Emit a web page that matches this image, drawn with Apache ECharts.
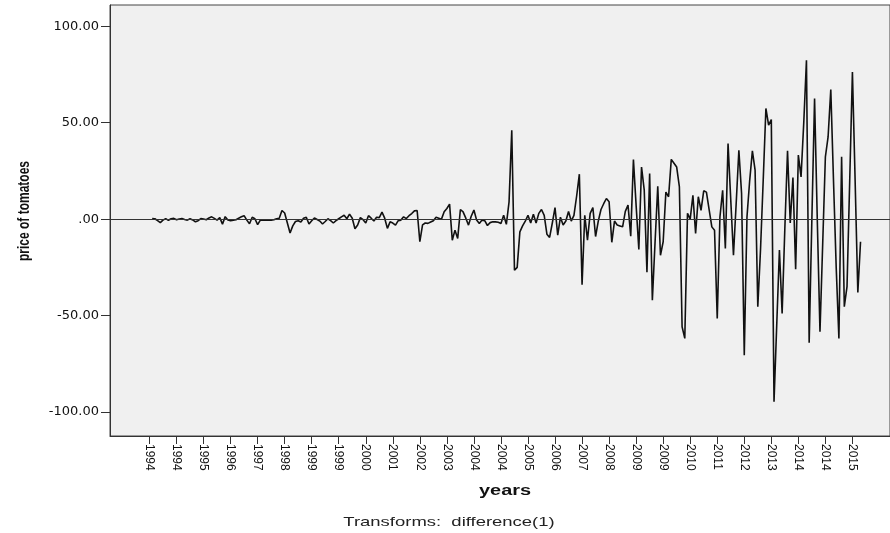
<!DOCTYPE html>
<html>
<head>
<meta charset="utf-8">
<script src="https://cdn.jsdelivr.net/npm/echarts@6/dist/echarts.min.js"></script>
<style>
html,body{margin:0;padding:0;background:#fff;}
#chart{width:890px;height:533px;}
</style>
</head>
<body>
<div id="chart"></div>
<script>
// Monthly differenced price of tomatoes, Jan 1994 .. Dec 2015 (first value missing: difference(1))
const startYear = 1994;
const priceDiff = [
  null, 0.3, 0.2, -0.8, -1.8, -0.5, 0.3, -0.6, 0.2, 0.4, -0.3, 0.1,          // 1994
  0.3, -0.2, -0.5, 0.2, -0.4, -1.4, -0.8, 0.3, 0.1, -0.3, 0.6, 1.2,          // 1995
  0.4, -0.5, 0.8, -2.6, 1.3, -0.4, -0.8, -0.6, -0.3, 0.5, 1.2, 1.8,          // 1996
  -0.5, -2.4, 1.0, 0.2, -2.8, -0.5, -0.6, -0.4, -0.5, -0.6, -0.3, 0.2,       // 1997
  0.5, 4.5, 3.2, -2.0, -7.2, -3.5, -1.2, -0.8, -1.5, 0.5, 1.0, -2.5,         // 1998
  -0.8, 0.6, -0.2, -1.0, -2.5, -1.2, 0.2, -0.8, -2.0, -0.8, 0.2, 1.2,        // 1999
  2.0, 0.2, 2.6, 0.5, -5.0, -3.0, 0.8, -0.3, -2.0, 1.8, 0.5, -1.0,           // 2000
  1.0, 0.8, 3.6, 0.5, -4.8, -1.4, -2.0, -3.1, -0.8, -0.5, 1.2, 0.3,          // 2001
  1.8, 2.9, 4.3, 4.5, -11.7, -3.0, -2.0, -2.2, -1.5, -0.8, 1.0, 0.5,         // 2002
  0.0, 3.8, 5.5, 7.8, -10.9, -5.7, -10.0, 5.0, 3.8, 0.5, -3.1, 1.5,          // 2003
  4.7, -0.5, -2.2, -0.5, -0.8, -3.3, -1.8, -1.4, -1.4, -1.6, -2.2, 2.0,      // 2004
  -2.7, 9.0, 46.1, -26.5, -25.0, -6.6, -3.5, -1.0, 2.0, -2.0, 2.5, -2.0,     // 2005
  3.0, 5.0, 2.0, -7.8, -9.5, -2.0, 6.0, -8.3, 1.0, -3.0, -1.0, 4.0,          // 2006
  -1.0, 2.0, 12.0, 23.3, -34.0, 2.0, -10.9, 3.0, 6.0, -9.0, -1.0, 5.0,       // 2007
  8.0, 10.7, 9.0, -12.0, -1.0, -3.0, -3.5, -4.0, 4.0, 7.3, -8.8, 30.9,       // 2008
  7.0, -15.7, 27.0, 15.0, -27.5, 23.7, -42.0, -12.0, 17.0, -18.7, -11.7, 14.0, // 2009
  11.6, 31.0, 29.0, 27.0, 16.7, -55.8, -61.8, 3.0, 0.0, 12.4, -7.4, 11.6,    // 2010
  4.6, 14.7, 14.0, 5.0, -4.0, -5.8, -51.5, 1.2, 15.0, -15.2, 39.2, 10.0,     // 2011
  -18.7, 8.0, 35.7, 13.3, -70.5, 1.2, 20.0, 35.4, 25.4, -45.4, -16.0, 20.0,  // 2012
  57.4, 48.7, 51.6, -94.6, -55.0, -16.0, -48.9, -5.0, 35.4, -2.0, 21.6, -26.0, // 2013
  33.2, 21.9, 50.0, 82.4, -64.0, 0.0, 62.5, 0.0, -58.4, -13.0, 32.3, 42.6,   // 2014
  67.2, 20.0, -25.0, -61.8, 32.3, -45.4, -35.0, 20.0, 76.3, 20.0, -38.0, -11.7 // 2015
];
// x-axis ticks every 10 observations, labelled with the year of that month
const tickLabels = ['1994','1994','1995','1996','1997','1998','1999','1999','2000','2001',
  '2002','2003','2004','2004','2005','2006','2007','2008','2009','2009',
  '2010','2011','2012','2013','2014','2014','2015'];
const tickStep = 10;
const yTicks = [-100, -50, 0, 50, 100];

const tickPositions = tickLabels.map((_, i) => i * tickStep);
const seriesData = priceDiff.map((v, i) => [i, v]);

const chart = echarts.init(document.getElementById('chart'), null, {renderer: 'canvas'});
chart.setOption({
  animation: false,
  backgroundColor: '#ffffff',
  grid: {
    left: 110, top: 5, right: 0, bottom: 97,
    show: true, backgroundColor: '#f0f0f0', borderColor: '#444', borderWidth: 1
  },
  xAxis: {
    type: 'value',
    min: -14.6, max: 273.9,
    axisLine: {show: true, onZero: false, lineStyle: {color: '#333', width: 1}},
    axisTick: {show: true, length: 8, customValues: tickPositions, lineStyle: {color: '#333'}},
    axisLabel: {
      show: true, customValues: tickPositions, rotate: -90, margin: 8,
      color: '#111', fontFamily: 'Liberation Sans', fontSize: 12,
      formatter: v => tickLabels[Math.round(v / tickStep)]
    },
    splitLine: {show: false}
  },
  yAxis: {
    type: 'value',
    min: -112.4, max: 111,
    axisLine: {show: true, onZero: false, lineStyle: {color: '#333', width: 1}},
    axisTick: {show: true, length: 9, customValues: yTicks, lineStyle: {color: '#333'}},
    axisLabel: {
      show: true, customValues: yTicks, margin: 11,
      color: '#111', fontFamily: 'DejaVu Sans', fontSize: 13,
      formatter: v => v === 0 ? '.00' : v.toFixed(2)
    },
    splitLine: {show: false}
  },
  series: [{
    type: 'line',
    data: seriesData,
    showSymbol: false,
    connectNulls: false,
    lineStyle: {color: '#111', width: 1.6},
    markLine: {
      silent: true, symbol: 'none',
      label: {show: false},
      lineStyle: {color: '#333', width: 1.2, type: 'solid'},
      data: [{yAxis: 0}]
    }
  }],
  graphic: [
    {
      type: 'text', x: 24, y: 211, rotation: Math.PI / 2, scaleY: 1.42,
      style: {text: 'price of tomatoes', font: 'bold 12px "Liberation Sans"', fill: '#111', align: 'center', verticalAlign: 'middle'}
    },
    {
      type: 'text', x: 505, y: 491, scaleX: 1.42,
      style: {text: 'years', font: 'bold 14px "Liberation Sans"', fill: '#111', align: 'center', verticalAlign: 'middle'}
    },
    {
      type: 'text', x: 449, y: 522, scaleX: 1.42,
      style: {text: 'Transforms:  difference(1)', font: '13px "Liberation Sans"', fill: '#222', align: 'center', verticalAlign: 'middle'}
    }
  ]
});
</script>
</body>
</html>
